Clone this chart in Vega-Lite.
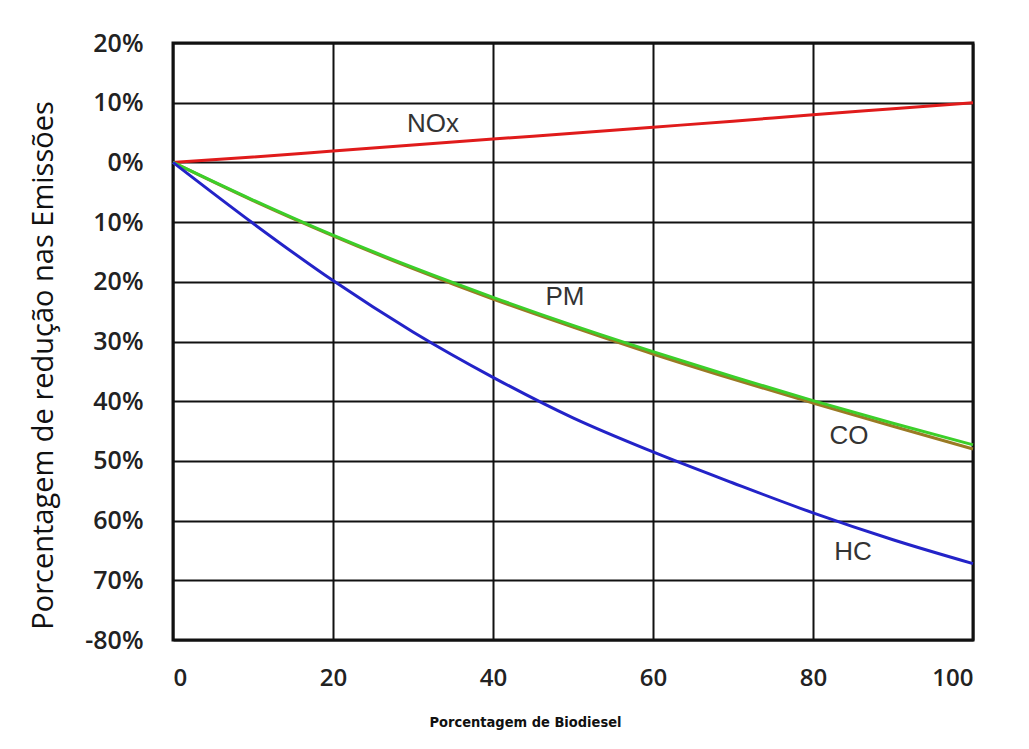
{
  "$schema": "https://vega.github.io/schema/vega-lite/v6.json",
  "width": 800,
  "height": 597,
  "autosize": {"type": "none"},
  "padding": {"left": 173, "top": 43, "right": 56, "bottom": 109},
  "background": "white",
  "config": {
    "view": {"stroke": "#111111", "strokeWidth": 3},
    "font": "Open Sans"
  },
  "datasets": {
    "curves": [
      {"biodiesel": 0, "reducao": 0, "serie": "NOx"},
      {"biodiesel": 10, "reducao": 0.9, "serie": "NOx"},
      {"biodiesel": 20, "reducao": 1.9, "serie": "NOx"},
      {"biodiesel": 30, "reducao": 2.9, "serie": "NOx"},
      {"biodiesel": 40, "reducao": 3.9, "serie": "NOx"},
      {"biodiesel": 50, "reducao": 4.9, "serie": "NOx"},
      {"biodiesel": 60, "reducao": 5.9, "serie": "NOx"},
      {"biodiesel": 70, "reducao": 6.9, "serie": "NOx"},
      {"biodiesel": 80, "reducao": 8.0, "serie": "NOx"},
      {"biodiesel": 90, "reducao": 9.0, "serie": "NOx"},
      {"biodiesel": 100, "reducao": 10.0, "serie": "NOx"},
      {"biodiesel": 0, "reducao": 0, "serie": "CO"},
      {"biodiesel": 10, "reducao": -6.4, "serie": "CO"},
      {"biodiesel": 20, "reducao": -12.3, "serie": "CO"},
      {"biodiesel": 30, "reducao": -17.8, "serie": "CO"},
      {"biodiesel": 40, "reducao": -22.9, "serie": "CO"},
      {"biodiesel": 50, "reducao": -27.6, "serie": "CO"},
      {"biodiesel": 60, "reducao": -32.1, "serie": "CO"},
      {"biodiesel": 70, "reducao": -36.3, "serie": "CO"},
      {"biodiesel": 80, "reducao": -40.3, "serie": "CO"},
      {"biodiesel": 90, "reducao": -44.2, "serie": "CO"},
      {"biodiesel": 100, "reducao": -48.0, "serie": "CO"},
      {"biodiesel": 0, "reducao": 0, "serie": "PM"},
      {"biodiesel": 10, "reducao": -6.3, "serie": "PM"},
      {"biodiesel": 20, "reducao": -12.2, "serie": "PM"},
      {"biodiesel": 30, "reducao": -17.6, "serie": "PM"},
      {"biodiesel": 40, "reducao": -22.6, "serie": "PM"},
      {"biodiesel": 50, "reducao": -27.3, "serie": "PM"},
      {"biodiesel": 60, "reducao": -31.7, "serie": "PM"},
      {"biodiesel": 70, "reducao": -35.9, "serie": "PM"},
      {"biodiesel": 80, "reducao": -39.9, "serie": "PM"},
      {"biodiesel": 90, "reducao": -43.7, "serie": "PM"},
      {"biodiesel": 100, "reducao": -47.3, "serie": "PM"},
      {"biodiesel": 0, "reducao": 0, "serie": "HC"},
      {"biodiesel": 10, "reducao": -10.2, "serie": "HC"},
      {"biodiesel": 20, "reducao": -19.8, "serie": "HC"},
      {"biodiesel": 30, "reducao": -28.4, "serie": "HC"},
      {"biodiesel": 40, "reducao": -36.0, "serie": "HC"},
      {"biodiesel": 50, "reducao": -42.8, "serie": "HC"},
      {"biodiesel": 60, "reducao": -48.5, "serie": "HC"},
      {"biodiesel": 70, "reducao": -53.7, "serie": "HC"},
      {"biodiesel": 80, "reducao": -58.7, "serie": "HC"},
      {"biodiesel": 90, "reducao": -63.2, "serie": "HC"},
      {"biodiesel": 100, "reducao": -67.2, "serie": "HC"}
    ],
    "labels": [
      {"biodiesel": 32.5, "reducao": 6.4, "nome": "NOx"},
      {"biodiesel": 49, "reducao": -22.6, "nome": "PM"},
      {"biodiesel": 84.5, "reducao": -45.9, "nome": "CO"},
      {"biodiesel": 85, "reducao": -65.3, "nome": "HC"}
    ]
  },
  "layer": [
    {
      "data": {"name": "curves"},
      "mark": {"type": "line", "strokeWidth": 3, "interpolate": "monotone"},
      "encoding": {
        "x": {
          "field": "biodiesel", "type": "quantitative",
          "scale": {"domain": [0, 100], "nice": false, "zero": false},
          "axis": {
            "values": [0, 20, 40, 60, 80, 100],
            "grid": true, "gridColor": "#111111", "gridWidth": 2, "gridOpacity": 1,
            "domain": false, "ticks": false,
            "labelFont": "Open Sans", "labelFontSize": 24, "labelFontWeight": 600, "labelColor": "#222222",
            "labelPadding": 26,
            "title": "Porcentagem de Biodiesel",
            "titleFont": "DejaVu Sans Condensed", "titleFontSize": 14.5, "titleFontWeight": "bold", "titleColor": "#111111",
            "titleX": 352, "titleY": 82, "titleBaseline": "middle", "titleAnchor": "middle"
          }
        },
        "y": {
          "field": "reducao", "type": "quantitative",
          "scale": {"domain": [-80, 20], "nice": false, "zero": false},
          "axis": {
            "values": [20, 10, 0, -10, -20, -30, -40, -50, -60, -70, -80],
            "labelExpr": "datum.value == -80 ? '-80%' : abs(datum.value) + '%'",
            "grid": true, "gridColor": "#111111", "gridWidth": 2, "gridOpacity": 1,
            "domain": false, "ticks": false,
            "labelFont": "Open Sans", "labelFontSize": 25, "labelFontWeight": 600, "labelColor": "#222222",
            "labelPadding": 30,
            "title": "Porcentagem de redução nas Emissões",
            "titleFont": "Open Sans", "titleFontSize": 29, "titleFontWeight": "normal", "titleColor": "#111111",
            "titleX": -130, "titleY": 322, "titleBaseline": "middle", "titleAngle": -90
          }
        },
        "color": {
          "field": "serie", "type": "nominal",
          "scale": {"domain": ["NOx", "CO", "PM", "HC"], "range": ["#e01b1b", "#9a7a24", "#3ccf2a", "#2323c8"]},
          "legend": null
        },
        "order": {"field": "biodiesel", "type": "quantitative"}
      }
    },
    {
      "data": {"name": "labels"},
      "mark": {"type": "text", "font": "Liberation Sans", "fontSize": 26, "color": "#333333", "align": "center", "baseline": "middle"},
      "encoding": {
        "x": {"field": "biodiesel", "type": "quantitative"},
        "y": {"field": "reducao", "type": "quantitative"},
        "text": {"field": "nome"}
      }
    }
  ]
}
